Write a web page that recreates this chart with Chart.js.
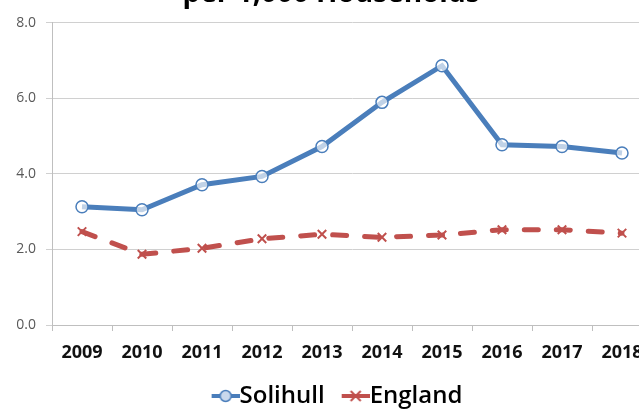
<!DOCTYPE html>
<html>
<head>
<meta charset="utf-8">
<script src="https://cdn.jsdelivr.net/npm/chart.js@4"></script>
<style>
  html, body { margin: 0; padding: 0; background: #fff; overflow: hidden; width: 639px; height: 409px; }
  #wrap { position: absolute; left: 0; top: -30px; }
</style>
</head>
<body>
<div id="wrap"><canvas id="myChart" width="665" height="460"></canvas></div>
<script>
const years = ['2009', '2010', '2011', '2012', '2013', '2014', '2015', '2016', '2017', '2018'];
const solihull = [3.13, 3.05, 3.71, 3.93, 4.72, 5.89, 6.86, 4.77, 4.72, 4.55];
const england = [2.47, 1.87, 2.03, 2.28, 2.40, 2.32, 2.38, 2.52, 2.52, 2.43];
const yTicks = [0, 2, 4, 6, 8];

const blue = '#4a7ebb';
const red = '#c0504d';
const font = 'Open Sans';

// legend sample: short line with marker, drawn in the right part of the image
function legendIcon(color, marker) {
  const c = document.createElement('canvas');
  c.width = 52;
  c.height = 24;
  const g = c.getContext('2d');
  g.strokeStyle = color;
  g.lineWidth = 4;
  g.beginPath();
  g.moveTo(24, 12);
  g.lineTo(52, 12);
  g.stroke();
  g.lineWidth = 1.5;
  if (marker === 'circle') {
    g.fillStyle = '#c9d8ec';
    g.beginPath();
    g.arc(38, 12, 5.5, 0, Math.PI * 2);
    g.fill();
    g.stroke();
  } else {
    g.lineWidth = 2;
    g.beginPath();
    g.moveTo(33, 7); g.lineTo(43, 17);
    g.moveTo(43, 7); g.lineTo(33, 17);
    g.stroke();
  }
  return c;
}
const legendIcons = [legendIcon(blue, 'circle'), legendIcon(red, 'cross')];

const ctx = document.getElementById('myChart');

new Chart(ctx, {
  type: 'line',
  data: {
    labels: years,
    datasets: [{
      label: 'Solihull',
      data: solihull,
      borderColor: blue,
      borderWidth: 5,
      pointStyle: 'circle',
      pointRadius: 6,
      pointBorderWidth: 1.5,
      pointBorderColor: blue,
      pointBackgroundColor: 'rgba(255,255,255,0.65)',
      tension: 0
    }, {
      label: 'England',
      data: england,
      borderColor: red,
      borderWidth: 5,
      borderDash: [14, 18],
      borderCapStyle: 'round',
      pointStyle: 'crossRot',
      pointRadius: 6,
      pointBorderWidth: 2,
      pointBorderColor: red,
      pointBackgroundColor: red,
      tension: 0
    }]
  },
  options: {
    responsive: false,
    animation: false,
    devicePixelRatio: 1,
    layout: { padding: { left: 10, right: 13, top: 0, bottom: 12 } },
    plugins: {
      title: {
        display: true,
        text: 'per 1,000 Households',
        color: '#000',
        font: { family: font, size: 28, weight: 'bold' },
        padding: { top: 7, bottom: 12 }
      },
      legend: {
        position: 'bottom',
        labels: {
          usePointStyle: true,
          pointStyleWidth: 28,
          padding: 5,
          color: '#000',
          font: { family: font, size: 24, weight: 600 },
          generateLabels: function (chart) {
            const items = Chart.defaults.plugins.legend.labels.generateLabels(chart);
            items.forEach(function (it, i) { it.pointStyle = legendIcons[i]; });
            return items;
          }
        }
      },
      tooltip: { enabled: false }
    },
    scales: {
      x: {
        offset: true,
        grid: { offset: true, drawOnChartArea: false, tickLength: 6, color: '#bfbfbf' },
        border: { color: '#bfbfbf' },
        ticks: { color: '#111', padding: 11, font: { family: font, size: 18, weight: 'bold' } },
        afterFit: function (scale) { scale.height = 54; }
      },
      y: {
        min: 0,
        max: 8,
        afterBuildTicks: function (scale) { scale.ticks = yTicks.map(function (v) { return { value: v }; }); },
        grid: { color: '#d0d0d0', tickLength: 6 },
        border: { color: '#bfbfbf' },
        ticks: {
          color: '#595959',
          padding: 10,
          font: { family: font, size: 14 },
          callback: function (v) { return Number(v).toFixed(1); }
        },
        afterFit: function (scale) { scale.width = 42; }
      }
    }
  }
});
</script>
</body>
</html>
